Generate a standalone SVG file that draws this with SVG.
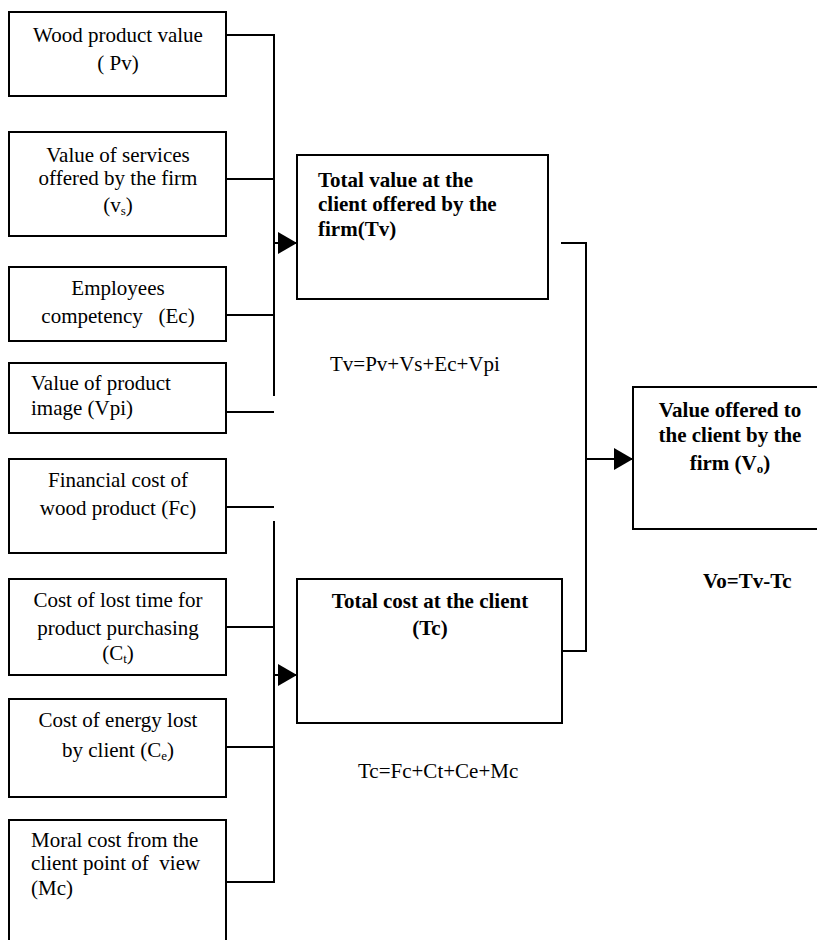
<svg xmlns="http://www.w3.org/2000/svg" width="817" height="940" viewBox="0 0 817 940">
<style>
  .box { fill: #ffffff; stroke: #000000; stroke-width: 2; }
  .ln { fill: none; stroke: #000000; stroke-width: 2; }
  text { font-family: "Liberation Serif", Tinos, "Times New Roman", Times, "Nimbus Roman", "Nimbus Roman No9 L", FreeSerif, "DejaVu Serif", "Noto Serif", serif; font-size: 21px; fill: #000000; }
  .c { text-anchor: middle; }
  .b { font-weight: bold; }
  .sub { font-size: 13px; }
</style>
<defs>
  <marker id="arr" markerUnits="userSpaceOnUse" markerWidth="20" markerHeight="22" refX="19" refY="11" orient="auto">
    <polygon points="0,0 19,11 0,22" fill="#000000"/>
  </marker>
</defs>
<rect width="817" height="940" fill="#ffffff"/>

<g id="connectors">
  <line class="ln" x1="274" y1="35" x2="274" y2="396"/>
  <line class="ln" x1="226" y1="35" x2="275" y2="35"/>
  <line class="ln" x1="226" y1="179" x2="274" y2="179"/>
  <line class="ln" x1="226" y1="315" x2="274" y2="315"/>
  <line class="ln" x1="226" y1="412" x2="274" y2="412"/>
  <line class="ln" x1="274" y1="243" x2="297" y2="243" marker-end="url(#arr)"/>

  <line class="ln" x1="274" y1="521" x2="274" y2="883"/>
  <line class="ln" x1="226" y1="507" x2="274" y2="507"/>
  <line class="ln" x1="226" y1="627" x2="274" y2="627"/>
  <line class="ln" x1="226" y1="747" x2="274" y2="747"/>
  <line class="ln" x1="226" y1="882" x2="275" y2="882"/>
  <line class="ln" x1="274" y1="675" x2="297" y2="675" marker-end="url(#arr)"/>

  <polyline class="ln" points="561,243 586,243 586,651 562,651"/>
  <line class="ln" x1="586" y1="459" x2="633" y2="459" marker-end="url(#arr)"/>
</g>

<g id="pv">
  <rect class="box" x="9" y="12" width="217" height="84"/>
  <text class="c" x="118" y="42">Wood product value</text>
  <text class="c" x="118" y="70">( Pv)</text>
</g>

<g id="vs">
  <rect class="box" x="9" y="132" width="217" height="104"/>
  <text class="c" x="118" y="162">Value of services</text>
  <text class="c" x="118" y="185">offered by the firm</text>
  <text class="c" x="118" y="212">(v<tspan class="sub" dy="3">s</tspan><tspan dy="-3">)</tspan></text>
</g>

<g id="ec">
  <rect class="box" x="9" y="267" width="217" height="74"/>
  <text class="c" x="118" y="295">Employees</text>
  <text class="c" x="118" y="323" xml:space="preserve">competency   (Ec)</text>
</g>

<g id="vpi">
  <rect class="box" x="9" y="363" width="217" height="70"/>
  <text x="31" y="390">Value of product</text>
  <text x="31" y="415">image (Vpi)</text>
</g>

<g id="fc">
  <rect class="box" x="9" y="459" width="217" height="94"/>
  <text class="c" x="118" y="487">Financial cost of</text>
  <text class="c" x="118" y="515">wood product (Fc)</text>
</g>

<g id="ct">
  <rect class="box" x="9" y="579" width="217" height="96"/>
  <text class="c" x="118" y="607">Cost of lost time for</text>
  <text class="c" x="118" y="635">product purchasing</text>
  <text class="c" x="118" y="660">(C<tspan class="sub" dy="3">t</tspan><tspan dy="-3">)</tspan></text>
</g>

<g id="ce">
  <rect class="box" x="9" y="699" width="217" height="98"/>
  <text class="c" x="118" y="727">Cost of energy lost</text>
  <text class="c" x="118" y="757">by client (C<tspan class="sub" dy="3">e</tspan><tspan dy="-3">)</tspan></text>
</g>

<g id="mc">
  <rect class="box" x="9" y="820" width="217" height="140"/>
  <text x="31" y="847">Moral cost from the</text>
  <text x="31" y="870" xml:space="preserve">client point of  view</text>
  <text x="31" y="895">(Mc)</text>
</g>

<g id="tv">
  <rect class="box" x="297" y="155" width="251" height="144"/>
  <text class="b" x="318" y="187">Total value at the</text>
  <text class="b" x="318" y="211">client offered by the</text>
  <text class="b" x="318" y="236">firm(Tv)</text>
  <text x="330" y="371">Tv=Pv+Vs+Ec+Vpi</text>
</g>

<g id="tc">
  <rect class="box" x="297" y="579" width="265" height="144"/>
  <text class="b c" x="430" y="608">Total cost at the client</text>
  <text class="b c" x="430" y="635">(Tc)</text>
  <text x="358" y="778">Tc=Fc+Ct+Ce+Mc</text>
</g>

<g id="vo">
  <rect class="box" x="633" y="387" width="196" height="142"/>
  <text class="b c" x="730" y="417">Value offered to</text>
  <text class="b c" x="730" y="442">the client by the</text>
  <text class="b c" x="730" y="470">firm (V<tspan class="sub" dy="3">o</tspan><tspan dy="-3">)</tspan></text>
  <text class="b" x="703" y="588">Vo=Tv-Tc</text>
</g>
</svg>
